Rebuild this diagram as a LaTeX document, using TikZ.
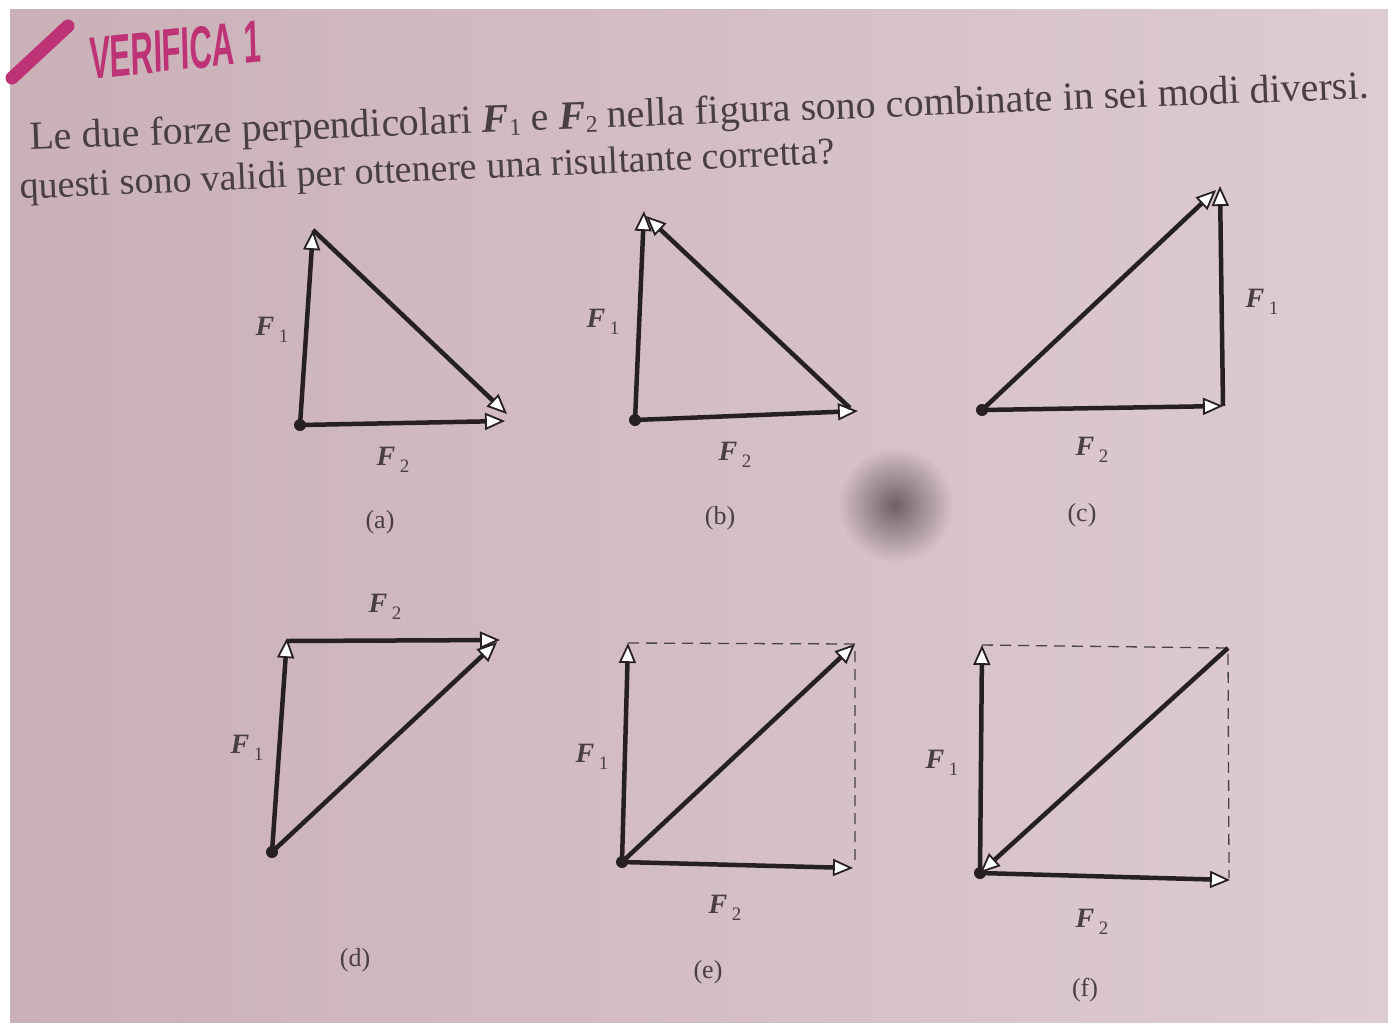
\documentclass[tikz,border=0pt]{standalone}
\usepackage{fontspec}
\setmainfont{Liberation Serif}
\newfontfamily\hdfont{Liberation Sans}
\usetikzlibrary{arrows.meta}
\definecolor{ink}{RGB}{38,32,36}
\definecolor{txt}{RGB}{72,62,68}
\definecolor{mag}{RGB}{190,50,118}
\definecolor{bgl}{RGB}{202,176,183}
\definecolor{bgr}{RGB}{222,204,210}
\newcommand\Fv[1]{\textbf{\textit{F}}\,\raisebox{-7pt}{\fontsize{19}{19}\selectfont #1}}
\newcommand\Ft[1]{\textbf{\textit{F}}\raisebox{-4pt}[0pt][0pt]{\fontsize{24}{24}\selectfont #1}}
\tikzset{
  vec/.style={ink,line width=4.5pt,-{Triangle[length=20pt,width=17pt,fill=white,line width=1.8pt]}},
  guide/.style={ink!85,line width=1.3pt,dash pattern=on 11pt off 7pt},
  lab/.style={txt,font=\fontsize{28}{28}\selectfont},
  captxt/.style={txt,font=\fontsize{26}{26}\selectfont},
  body/.style={txt,inner sep=0pt},
  dotn/.style={circle,fill=ink,inner sep=0pt,minimum size=12pt}
}
\begin{document}
\begin{tikzpicture}[x=1pt,y=-1pt]
\useasboundingbox (0,0) rectangle (1388,1029);
\fill[white] (0,0) rectangle (1388,1029);
\shade[left color=bgl,right color=bgr] (10,9) rectangle (1388,1022);
\shade[inner color=black!45!bgl,outer color=bgr!64!bgl] (895,505) circle (58);
% header
\draw[mag,line width=13pt,line cap=round] (12,78) -- (68,26);
\node[mag,font=\hdfont\bfseries\fontsize{60}{60}\selectfont,xscale=0.52,rotate=3,anchor=south west,inner sep=0pt] (title) at (90,80) {VERIFICA 1};
\node[body,font=\fontsize{40}{40}\selectfont,rotate=2.2,anchor=base west] (l1) at (30,150) {Le due forze perpendicolari \Ft{1} e \Ft{2} nella figura sono combinate in sei modi diversi.};
\node[body,font=\fontsize{38}{38}\selectfont,rotate=2.5,anchor=base west] (l2) at (20,199) {questi sono validi per ottenere una risultante corretta?};
% (a)
\node[dotn] (aO) at (300,425) {};
\coordinate (a1) at (313,230);
\coordinate (a2) at (505,421);
\draw[vec] (aO.center) -- (a1);
\draw[vec] (aO.center) -- (a2);
\draw[vec] (a1) -- (507,414);
\node[lab] (aF1) at (272,330) {\Fv{1}};
\node[lab] (aF2) at (393,460) {\Fv{2}};
\node[captxt] (aC) at (380,522) {(a)};
% (b)
\node[dotn] (bO) at (635,420) {};
\coordinate (b1) at (644,211);
\coordinate (b2) at (858,411);
\draw[vec] (bO.center) -- (b1);
\draw[vec] (bO.center) -- (b2);
\draw[vec] (850,408) -- (646,216);
\node[lab] (bF1) at (603,322) {\Fv{1}};
\node[lab] (bF2) at (735,455) {\Fv{2}};
\node[captxt] (bC) at (720,518) {(b)};
% (c)
\node[dotn] (cO) at (982,410) {};
\coordinate (c2) at (1223,406);
\coordinate (c1) at (1220,186);
\draw[vec] (cO.center) -- (c2);
\draw[vec] (c2) -- (c1);
\draw[vec] (cO.center) -- (1216,190);
\node[lab] (cF1) at (1262,302) {\Fv{1}};
\node[lab] (cF2) at (1092,450) {\Fv{2}};
\node[captxt] (cC) at (1082,515) {(c)};
% (d)
\node[dotn] (dO) at (272,852) {};
\coordinate (d1) at (287,638);
\coordinate (d2) at (500,640);
\draw[vec] (dO.center) -- (d1);
\draw[vec] (287,641) -- (d2);
\draw[vec] (dO.center) -- (497,642);
\node[lab] (dF2) at (385,607) {\Fv{2}};
\node[lab] (dF1) at (247,748) {\Fv{1}};
\node[captxt] (dC) at (355,960) {(d)};
% (e)
\node[dotn] (eO) at (622,862) {};
\coordinate (e1) at (628,643);
\coordinate (e2) at (853,868);
\coordinate (eR) at (855,644);
\draw[guide] (628,643) -- (eR) -- (855,866);
\draw[vec] (eO.center) -- (e1);
\draw[vec] (eO.center) -- (e2);
\draw[vec] (eO.center) -- (eR);
\node[lab] (eF1) at (592,757) {\Fv{1}};
\node[lab] (eF2) at (725,908) {\Fv{2}};
\node[captxt] (eC) at (708,972) {(e)};
% (f)
\node[dotn] (fO) at (980,873) {};
\coordinate (f1) at (982,645);
\coordinate (f2) at (1230,880);
\coordinate (fR) at (1228,648);
\draw[guide] (982,645) -- (fR) -- (1229,878);
\draw[vec] (fO.center) -- (f1);
\draw[vec] (fO.center) -- (f2);
\draw[vec] (fR) -- (fO.center);
\node[lab] (fF1) at (942,763) {\Fv{1}};
\node[lab] (fF2) at (1092,922) {\Fv{2}};
\node[captxt] (fC) at (1085,990) {(f)};
\end{tikzpicture}
\end{document}
